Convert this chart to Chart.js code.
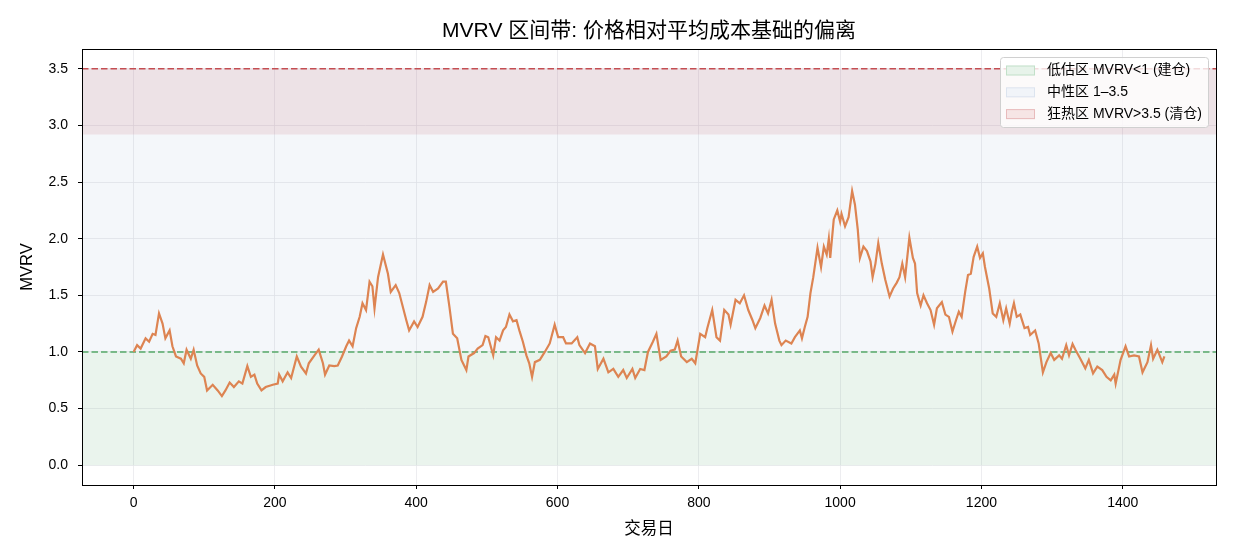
<!DOCTYPE html>
<html><head><meta charset="utf-8">
<script src="https://cdn.jsdelivr.net/npm/chart.js@4.4.1/dist/chart.umd.min.js"></script>
<style>html,body{margin:0;padding:0;background:#fff;}#wrap{width:1235px;height:559px;}</style>
</head><body><div id="wrap"><canvas id="c" width="1235" height="559"></canvas></div>
<script>
// ---- data ----
const days = [
0,5,10,17,22,27,31,36,41,45,
51,55,60,67,71,75,81,85,90,95,
100,104,112,119,125,130,136,142,149,154,
161,166,171,175,181,187,197,204,206,211,
218,223,231,237,244,248,256,262,268,271,
277,284,289,295,301,305,310,315,320,324,
329,334,338,341,346,353,360,364,371,376,
386,390,397,402,409,414,419,424,431,438,
442,447,452,458,464,471,474,482,487,494,
498,502,509,513,518,523,527,532,537,542,
546,551,556,560,564,568,575,582,589,596,
601,608,612,620,628,631,639,646,653,657,
665,672,679,686,693,698,706,710,717,723,
728,735,740,746,754,760,766,770,775,783,
790,795,802,809,812,819,825,830,836,842,
845,852,858,864,870,876,880,887,893,898,
903,908,914,917,923,931,936,943,946,950,
954,958,962,968,973,977,981,984,986,991,
996,1000,1002,1007,1012,1017,1021,1025,1028,1033,
1038,1043,1046,1050,1054,1059,1064,1070,1075,1080,
1084,1088,1092,1098,1103,1106,1109,1114,1118,1123,
1128,1133,1137,1144,1149,1154,1159,1164,1168,1172,
1177,1181,1185,1189,1194,1198,1202,1205,1211,1216,
1221,1226,1231,1235,1240,1243,1246,1250,1255,1261,
1266,1269,1276,1281,1287,1292,1298,1303,1310,1314,
1320,1324,1329,1333,1340,1347,1352,1358,1364,1371,
1377,1383,1388,1390,1397,1404,1409,1416,1423,1428,
1435,1440,1443,1449,1456,1459];
const mvrv = [
1.00,1.06,1.03,1.12,1.09,1.16,1.15,1.34,1.25,1.12,
1.19,1.05,0.96,0.94,0.90,1.02,0.94,1.02,0.88,0.81,
0.78,0.66,0.71,0.66,0.61,0.66,0.73,0.69,0.74,0.72,
0.875,0.78,0.80,0.72,0.66,0.69,0.71,0.72,0.80,0.74,
0.82,0.77,0.96,0.87,0.81,0.90,0.97,1.02,0.90,0.80,
0.88,0.875,0.88,0.96,1.05,1.10,1.05,1.21,1.31,1.43,
1.37,1.62,1.58,1.385,1.66,1.86,1.69,1.53,1.59,1.52,
1.28,1.19,1.27,1.22,1.31,1.44,1.59,1.53,1.56,1.62,
1.62,1.40,1.16,1.12,0.93,0.84,0.96,0.99,1.03,1.06,
1.14,1.13,0.97,1.13,1.10,1.19,1.22,1.33,1.27,1.28,
1.19,1.09,0.97,0.90,0.78,0.91,0.93,1.00,1.075,1.24,
1.13,1.13,1.075,1.075,1.13,1.06,0.99,1.075,1.05,0.85,
0.94,0.82,0.85,0.78,0.84,0.77,0.85,0.77,0.85,0.84,
1.00,1.09,1.16,0.93,0.96,1.01,1.02,1.10,0.96,0.91,
0.94,0.90,1.16,1.13,1.21,1.37,1.13,1.10,1.37,1.33,
1.24,1.46,1.43,1.50,1.37,1.28,1.21,1.30,1.41,1.34,
1.46,1.25,1.10,1.06,1.10,1.075,1.13,1.19,1.12,1.22,
1.31,1.52,1.66,1.92,1.75,1.93,1.86,2.00,1.83,2.17,
2.25,2.15,2.22,2.11,2.19,2.42,2.30,2.08,1.83,1.93,
1.89,1.80,1.66,1.78,1.96,1.78,1.635,1.49,1.56,1.61,
1.66,1.78,1.66,2.01,1.83,1.78,1.52,1.41,1.50,1.43,
1.37,1.24,1.385,1.44,1.33,1.31,1.18,1.28,1.355,1.31,
1.53,1.68,1.69,1.84,1.93,1.83,1.87,1.75,1.56,1.34,
1.31,1.43,1.28,1.385,1.25,1.355,1.43,1.31,1.33,1.21,
1.22,1.15,1.19,1.075,0.82,0.91,0.99,0.93,0.97,0.94,
1.06,0.97,1.07,1.02,0.94,0.855,0.93,0.81,0.87,0.84,
0.78,0.75,0.80,0.72,0.93,1.05,0.96,0.97,0.96,0.82,
0.91,1.06,0.94,1.02,0.91,0.96];
const xTicks = [0,200,400,600,800,1000,1200,1400];
const yTicks = [0,0.5,1.0,1.5,2.0,2.5,3.0,3.5];
const xRange = [-73, 1532];
const yRange = [-0.175, 3.675];
const zoneLabels = ['低估区 MVRV<1 (建仓)', '中性区 1–3.5', '狂热区 MVRV>3.5 (清仓)'];
const zoneLow = [0, 1];
const zoneMid = [1, 3.5];
const zoneHot = [2.92, 3.5];
const thresholds = [1, 3.5];
const titleText = 'MVRV 区间带: 价格相对平均成本基础的偏离';
const xLabel = '交易日';
const yLabel = 'MVRV';

// ---- styles ----
const FONT = "'Liberation Sans', Arial, 'Noto Sans CJK SC', sans-serif";
const GREEN = '85,168,104', BLUE = '76,114,176', RED = '196,78,82';

function band(label, lim, rgb, alpha, legendFill, legendEdge) {
  return {label, data: [{x: xRange[0], y: lim[1]}, {x: xRange[1], y: lim[1]}],
    fill: {value: lim[0]}, backgroundColor: `rgba(${rgb},${alpha})`,
    borderColor: 'transparent', borderWidth: 0, pointRadius: 0, order: 10,
    legendFill, legendEdge};
}
function hline(v, color) {
  return {data: [{x: xRange[0], y: v}, {x: xRange[1], y: v}], borderColor: color,
    borderWidth: 1.5, borderDash: [6.5, 3], pointRadius: 0, fill: false, order: 5};
}

const datasets = [
  {label: 'MVRV', data: days.map((d, i) => ({x: d, y: mvrv[i]})), borderColor: '#dd8452',
   borderWidth: 2.2, pointRadius: 0, fill: false, tension: 0, order: 0},
  hline(thresholds[0], '#55a868'),
  hline(thresholds[1], '#c44e52'),
  band(zoneLabels[0], zoneLow, GREEN, 0.12, `rgba(${GREEN},0.14)`, `rgba(${GREEN},0.25)`),
  band(zoneLabels[1], zoneMid, BLUE, 0.06, `rgba(${BLUE},0.08)`, `rgba(${BLUE},0.12)`),
  band(zoneLabels[2], zoneHot, RED, 0.12, `rgba(${RED},0.15)`, `rgba(${RED},0.28)`)
];

function align(p) { return Math.round(p - 0.5) + 0.5; }

const decor = {
  id: 'decor',
  afterDraw(chart) {
    const ctx = chart.ctx, ca = chart.chartArea;
    ctx.save();
    // spines
    ctx.strokeStyle = '#000'; ctx.lineWidth = 1;
    const l = align(ca.left), t = align(ca.top), r = align(ca.right), b = align(ca.bottom);
    ctx.strokeRect(l, t, r - l, b - t);
    // title
    ctx.fillStyle = '#000';
    ctx.textAlign = 'center'; ctx.textBaseline = 'middle';
    ctx.font = `21px ${FONT}`;
    ctx.fillText(titleText, (ca.left + ca.right) / 2, 31);
    // axis labels
    ctx.font = `16.5px ${FONT}`;
    ctx.fillText(xLabel, (ca.left + ca.right) / 2, 529);
    ctx.save();
    ctx.translate(27, (ca.top + ca.bottom) / 2);
    ctx.rotate(-Math.PI / 2);
    ctx.fillText(yLabel, 0, 0);
    ctx.restore();
    // legend
    const items = chart.data.datasets.filter(d => d.legendFill);
    const bx = 1000.5, by = 57.5, bw = 208, bh = 70;
    ctx.beginPath();
    ctx.roundRect(bx, by, bw, bh, 3);
    ctx.fillStyle = 'rgba(255,255,255,0.8)'; ctx.fill();
    ctx.strokeStyle = '#d0d0d0'; ctx.lineWidth = 1; ctx.stroke();
    ctx.font = `14px ${FONT}`; ctx.textAlign = 'left';
    items.forEach((d, i) => {
      const cy = 70.5 + i * 21.8;
      ctx.fillStyle = '#fff';
      ctx.fillRect(1006, cy - 5, 29, 10);
      ctx.fillStyle = d.legendFill; ctx.fillRect(1006, cy - 5, 29, 10);
      ctx.strokeStyle = d.legendEdge; ctx.strokeRect(1006.5, cy - 4.5, 28, 9);
      ctx.fillStyle = '#000';
      ctx.fillText(d.label, 1047, cy);
    });
    ctx.restore();
  }
};

const tickFont = {size: 14, family: FONT};
new Chart(document.getElementById('c'), {
  type: 'line',
  data: {datasets},
  plugins: [decor],
  options: {
    responsive: false, animation: false, devicePixelRatio: 1,
    layout: {padding: {top: 49, right: 19, left: 0, bottom: 0}},
    plugins: {legend: {display: false}, tooltip: {enabled: false}, title: {display: false}},
    scales: {
      x: {type: 'linear', min: xRange[0], max: xRange[1],
        afterBuildTicks: s => { s.ticks = xTicks.map(v => ({value: v})); },
        afterFit: s => { s.height = 74; },
        ticks: {font: tickFont, color: '#000', padding: 6, maxRotation: 0, autoSkip: false,
          callback: v => String(v)},
        grid: {color: '#e8e8ec', lineWidth: 0.8, tickColor: '#000', tickLength: 4, tickWidth: 1},
        border: {display: false}},
      y: {type: 'linear', min: yRange[0], max: yRange[1],
        afterBuildTicks: s => { s.ticks = yTicks.map(v => ({value: v})); },
        afterFit: s => { s.width = 82; },
        ticks: {font: tickFont, color: '#000', padding: 10, autoSkip: false,
          callback: v => v.toFixed(1)},
        grid: {color: '#e8e8ec', lineWidth: 0.8, tickColor: '#000', tickLength: 4, tickWidth: 1},
        border: {display: false}}
    }
  }
});
</script></body></html>
